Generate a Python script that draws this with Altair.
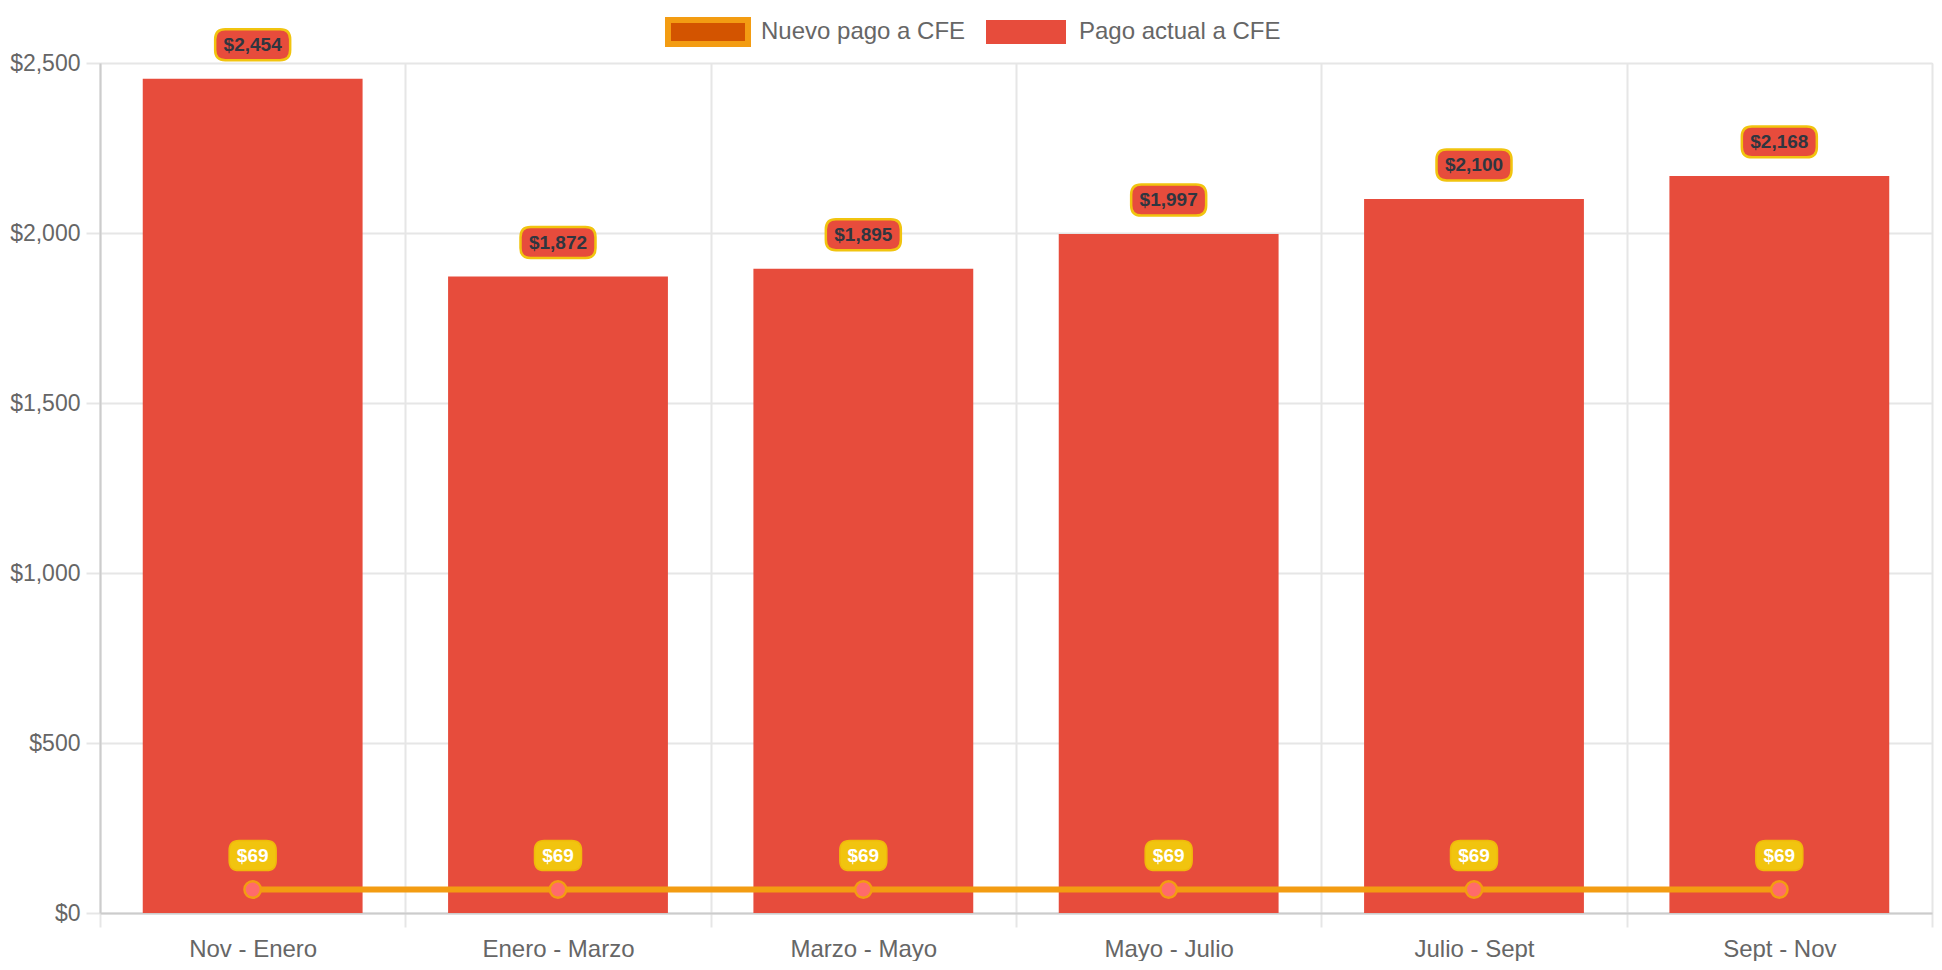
import altair as alt
import pandas as pd

categories = ["Nov - Enero", "Enero - Marzo", "Marzo - Mayo", "Mayo - Julio", "Julio - Sept", "Sept - Nov"]
pago_actual = [2454, 1872, 1895, 1997, 2100, 2168]
nuevo_pago = [69, 69, 69, 69, 69, 69]
series_names = ["Nuevo pago a CFE", "Pago actual a CFE"]
y_ticks = [0, 500, 1000, 1500, 2000, 2500]

df = pd.DataFrame({"cat": categories, "actual": pago_actual, "nuevo": nuevo_pago})
legend_df = pd.DataFrame({"series": series_names})

FONT = "Liberation Sans"
RED = "#e74c3c"
ORANGE = "#f39c12"
YELLOW = "#f1c40f"

x_enc = alt.X(
    "cat:N",
    sort=categories,
    title=None,
    scale=alt.Scale(paddingInner=0, paddingOuter=0),
    axis=alt.Axis(
        labelAngle=0, labelFontSize=24, labelColor="#666666", labelFont=FONT,
        labelPadding=10, tickBand="extent", grid=True, gridColor="#e6e6e6",
        gridWidth=2, tickColor="#e6e6e6", tickWidth=2, tickSize=14,
        domainColor="#cccccc", domainWidth=2,
    ),
)
y_scale = alt.Scale(domain=[0, 2500], nice=False)
y_axis = alt.Axis(
    values=y_ticks, format="$,.0f", labelFontSize=23, labelColor="#666666",
    labelFont=FONT, labelPadding=6, grid=True, gridColor="#e6e6e6", gridWidth=2,
    tickColor="#e6e6e6", tickWidth=2, tickSize=14, domainColor="#cccccc",
    domainWidth=2, title=None,
)

base = alt.Chart(df)

bars = base.mark_bar(color=RED, width={"band": 0.72}).encode(
    x=x_enc, y=alt.Y("actual:Q", scale=y_scale, axis=y_axis)
)

def rounded(hh, r):
    # rounded rectangle in unit coordinates, half width 1
    a = 1 - r
    b = hh - r
    return (f"M{-a},{-hh}L{a},{-hh}Q1,{-hh} 1,{-b}L1,{b}Q1,{hh} {a},{hh}"
            f"L{-a},{hh}Q-1,{hh} -1,{b}L-1,{-b}Q-1,{-hh} {-a},{-hh}Z")

bar_box = base.mark_point(
    shape=rounded(0.413, 0.27), size=75 * 75, filled=True, fill=RED,
    stroke=YELLOW, strokeWidth=2.5, opacity=1, yOffset=-34,
).encode(x=alt.X("cat:N", sort=categories), y=alt.Y("actual:Q"))

bar_text = base.mark_text(
    font=FONT, fontSize=19, fontWeight="bold", color="#2f3640", dy=-34,
    baseline="middle",
).encode(x=alt.X("cat:N", sort=categories), y=alt.Y("actual:Q"),
         text=alt.Text("actual:Q", format="$,.0f"))

line = base.mark_line(color=ORANGE, strokeWidth=6).encode(
    x=alt.X("cat:N", sort=categories), y=alt.Y("nuevo:Q")
)
pts = base.mark_point(
    shape="circle", size=270, filled=True, fill="#ff6b6b", stroke=ORANGE,
    strokeWidth=2.5, opacity=1,
).encode(x=alt.X("cat:N", sort=categories), y=alt.Y("nuevo:Q"))

new_box = base.mark_point(
    shape=rounded(0.64, 0.42), size=47 * 47, filled=True, fill=YELLOW,
    stroke="#f0b90b", strokeWidth=1.5, opacity=1, yOffset=-34,
).encode(x=alt.X("cat:N", sort=categories), y=alt.Y("nuevo:Q"))

new_text = base.mark_text(
    font=FONT, fontSize=19, fontWeight="bold", color="white", dy=-34,
    baseline="middle",
).encode(x=alt.X("cat:N", sort=categories), y=alt.Y("nuevo:Q"),
         text=alt.Text("nuevo:Q", format="$,.0f"))

leg = dict(
    title=None, orient="none", legendX=565, legendY=-74,
    direction="horizontal", labelFontSize=24, labelColor="#666666",
    labelFont=FONT, symbolType="M-1,-0.3L1,-0.3L1,0.3L-1,0.3Z",
    symbolSize=6400, symbolStrokeWidth=6, symbolOpacity=1, labelOffset=10,
    columnPadding=8, padding=0, labelLimit=0,
)

legend_layer = alt.Chart(legend_df).transform_filter("false").mark_point(
    filled=True, shape="square", opacity=1
).encode(
    fill=alt.Fill(
        "series:N",
        scale=alt.Scale(domain=series_names, range=["#d35400", RED]),
        legend=alt.Legend(**leg),
    ),
    stroke=alt.Stroke(
        "series:N",
        scale=alt.Scale(domain=series_names, range=[ORANGE, "rgba(0,0,0,0)"]),
        legend=alt.Legend(**leg),
    ),
)

chart = alt.layer(
    bars, line, pts, bar_box, bar_text, new_box, new_text, legend_layer
).properties(
    width=1832, height=850,
    padding={"left": 92, "top": 55, "right": 2, "bottom": 48},
    autosize=alt.AutoSizeParams(type="none"),
).configure_view(stroke=None).configure(font=FONT)

chart.save("out.html", embed_options={"renderer": "svg", "actions": False})
